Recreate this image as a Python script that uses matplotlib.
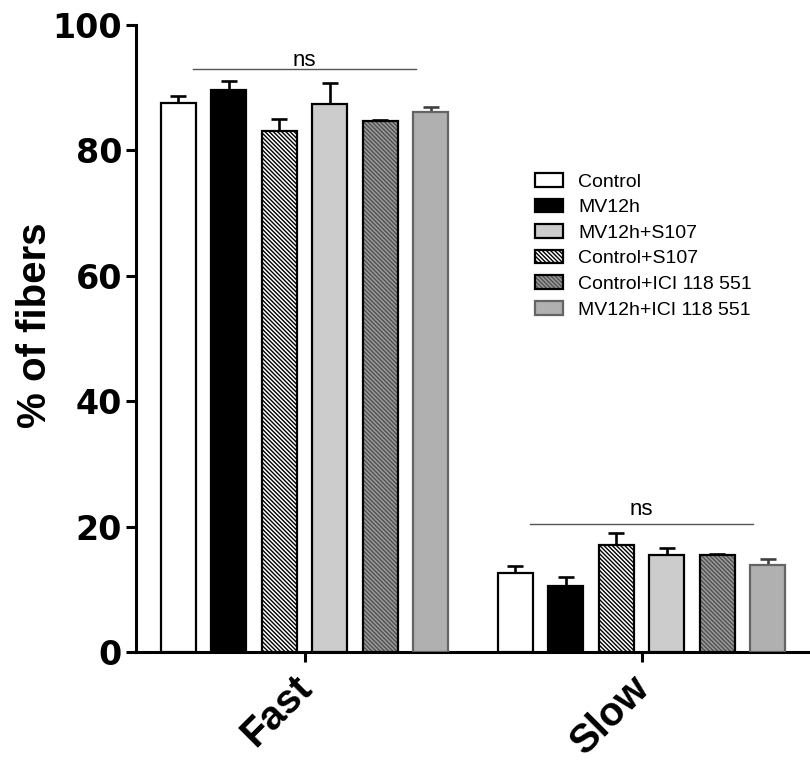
import numpy as np
import matplotlib
matplotlib.use("Agg")
import matplotlib.pyplot as plt
from matplotlib.patches import Patch
from matplotlib.legend_handler import HandlerTuple
from matplotlib.transforms import ScaledTranslation

plt.rcParams["font.family"] = ["Liberation Sans", "DejaVu Sans"]
plt.rcParams["hatch.linewidth"] = 1.0

# data
groups = ["Fast", "Slow"]
labels = ["Control", "MV12h", "Control+S107", "MV12h+S107",
          "Control+ICI 118 551", "MV12h+ICI 118 551"]
fast = [87.6, 89.6, 83.1, 87.4, 84.7, 86.1]
fast_err = [1.1, 1.5, 1.9, 3.4, 0.2, 0.8]
slow = [12.6, 10.5, 17.1, 15.5, 15.5, 13.9]
slow_err = [1.1, 1.4, 1.9, 1.1, 0.1, 0.9]
legend_order = [0, 1, 3, 2, 4, 5]
ns_levels = [93.0, 20.4]
ns_text_gap = [0.4, 1.5]

faces = ["white", "black", "white", "#cccccc", "#9a9a9a", "#b0b0b0"]
hatch_cols = [None, None, "black", None, "#505050", None]
edges = ["black", "black", "black", "black", "black", "#646464"]
err_cols = ["black", "black", "black", "black", "black", "#404040"]
HATCH = "\\" * 8

fig = plt.figure(figsize=(8.1, 7.69), dpi=100)
ax = fig.add_axes([136 / 810, 1 - 652 / 769, 1 - 136 / 810, (652 - 25) / 769])

x = np.arange(len(groups))
pitch = 0.15
width = 0.104
handles = []
for i, lab in enumerate(labels):
    pos = x + (i - 2.5) * pitch
    vals = [fast[i], slow[i]]
    errs = [fast_err[i], slow_err[i]]
    ax.errorbar(pos, vals, yerr=[[0, 0], errs], fmt="none", ecolor=err_cols[i],
                elinewidth=1.9, capsize=6, capthick=1.9, zorder=2)
    if hatch_cols[i]:
        ax.bar(pos, vals, width, color=faces[i], edgecolor=hatch_cols[i],
               hatch=HATCH, linewidth=0, zorder=3)
        ax.bar(pos, vals, width, fill=False, edgecolor=edges[i], linewidth=1.6, zorder=4)
        h = (Patch(facecolor=faces[i], edgecolor=hatch_cols[i], hatch=HATCH, linewidth=0),
             Patch(fill=False, edgecolor=edges[i], linewidth=1.6))
    else:
        ax.bar(pos, vals, width, color=faces[i], edgecolor=edges[i], linewidth=1.6, zorder=3)
        h = Patch(facecolor=faces[i], edgecolor=edges[i], linewidth=1.6)
    handles.append(h)

# "ns" brackets
for gx, lvl, gap in zip(x, ns_levels, ns_text_gap):
    ax.plot([gx - 0.33, gx + 0.33], [lvl, lvl], color="#555555", lw=1.0, zorder=5)
    ax.text(gx, lvl + gap, "ns", ha="center", va="baseline", fontsize=16)

ax.set_xlim(-0.5, 1.5)
ax.set_ylim(0, 100)
ax.set_yticks([0, 20, 40, 60, 80, 100])
ax.set_xticks(x)
ax.set_xticklabels([])
# category labels, rotated, drawn as text so they can be nudged left
shift = ax.get_xaxis_transform() + ScaledTranslation(-12 / 100, -16 / 100, fig.dpi_scale_trans)
for gx, g in zip(x, groups):
    ax.text(gx, 0, g, transform=shift, rotation=45, ha="right", va="top",
            rotation_mode="anchor", fontsize=29, fontweight="bold")
for t in ax.get_yticklabels():
    t.set_fontsize(24)
    t.set_fontweight("heavy")
    t.set_family(["DejaVu Sans"])
ax.tick_params(axis="both", width=2.2, length=7, direction="out", pad=3)
for s in ["top", "right"]:
    ax.spines[s].set_visible(False)
for s in ["left", "bottom"]:
    ax.spines[s].set_linewidth(2.2)
ax.set_ylabel("% of fibers", fontsize=29, fontweight="bold", labelpad=-1, y=0.521)

fig.legend([handles[k] for k in legend_order], [labels[k] for k in legend_order],
           loc="upper left", bbox_to_anchor=(535 / 810, 1 - 173 / 769),
           frameon=False, fontsize=14, borderpad=0, borderaxespad=0,
           handlelength=1.45, handleheight=0.7, handletextpad=0.77,
           labelspacing=0.41, handler_map={tuple: HandlerTuple(ndivide=1)})

fig.savefig("out.png", dpi=100)
